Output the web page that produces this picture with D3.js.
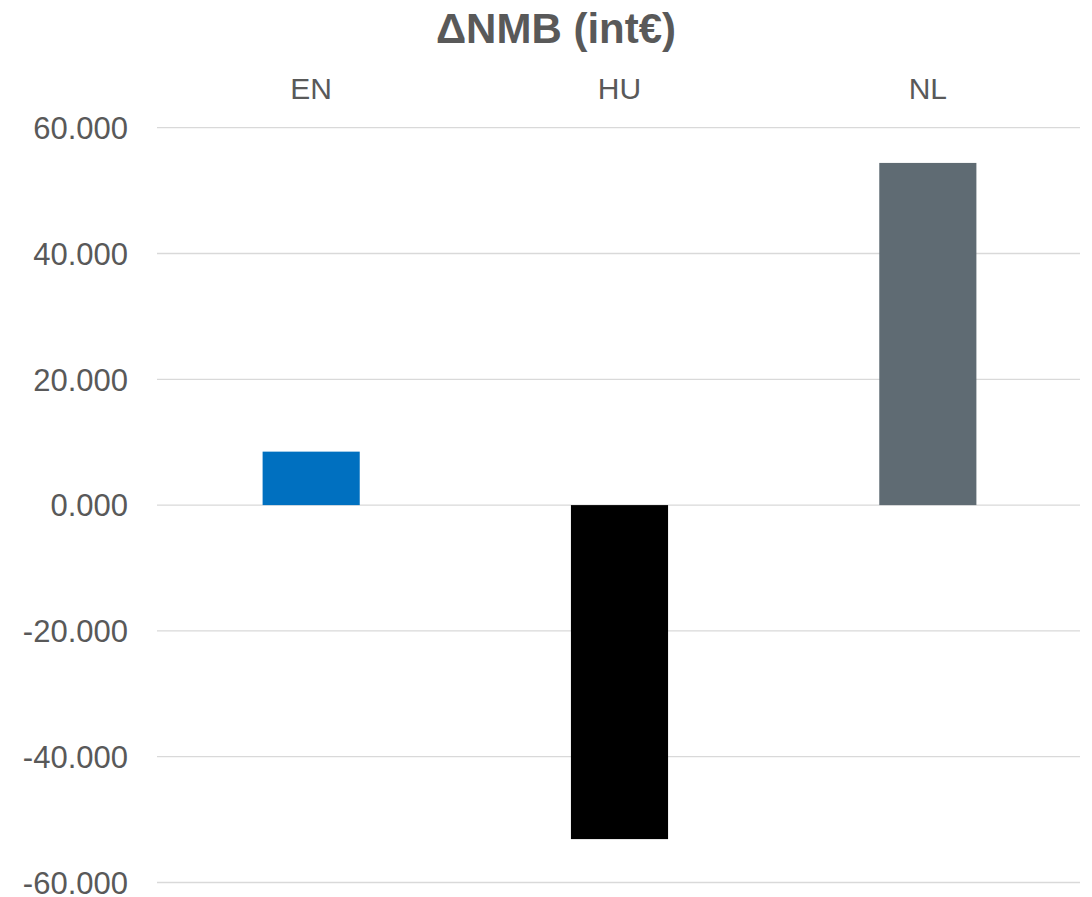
<!DOCTYPE html>
<html>
<head>
<meta charset="utf-8">
<script src="https://cdn.jsdelivr.net/npm/d3@7"></script>
<style>
  html, body { margin: 0; padding: 0; background: #fff; }
  svg { display: block; }
  text { font-family: "Liberation Sans", Arial, sans-serif; }
</style>
</head>
<body>
<svg id="chart" width="1092" height="897"></svg>
<script>
// Change in net monetary benefit per country
const categories = ["EN", "HU", "NL"];
const values = [8.5, -53.1, 54.4];
const barColors = ["#0070C0", "#000000", "#5F6B73"];
const tickValues = [60, 40, 20, 0, -20, -40, -60];
const tickLabels = ["60.000", "40.000", "20.000", "0.000", "-20.000", "-40.000", "-60.000"];
const title = "ΔNMB (int€)";

const svg = d3.select("#chart");
const plotLeft = 157, plotRight = 1082, plotTop = 127.7, plotBottom = 882.5;

const x = d3.scaleBand()
  .domain(categories)
  .range([plotLeft, plotRight])
  .paddingInner(0.685)
  .paddingOuter(0.3425);

const y = d3.scaleLinear()
  .domain([-60, 60])
  .range([plotBottom, plotTop]);

// horizontal gridlines
svg.append("g")
  .selectAll("line")
  .data(tickValues)
  .join("line")
  .attr("x1", plotLeft)
  .attr("x2", 1080)
  .attr("y1", d => y(d))
  .attr("y2", d => y(d))
  .attr("stroke", "#D9D9D9")
  .attr("stroke-width", 1.3);

// y tick labels via axis generator
const yAxis = d3.axisLeft(y)
  .tickValues(tickValues)
  .tickFormat((d, i) => tickLabels[i])
  .tickSize(0)
  .tickPadding(0);

const ag = svg.append("g")
  .attr("transform", `translate(128,0)`)
  .call(yAxis);
ag.select(".domain").remove();
ag.selectAll("text")
  .attr("font-family", "Liberation Sans, Arial, sans-serif")
  .attr("font-size", 31)
  .attr("fill", "#595959")
  .attr("dy", "0.35em");

// bars
svg.append("g")
  .selectAll("rect")
  .data(categories)
  .join("rect")
  .attr("x", d => x(d))
  .attr("width", x.bandwidth())
  .attr("y", (d, i) => y(Math.max(0, values[i])))
  .attr("height", (d, i) => Math.abs(y(values[i]) - y(0)))
  .attr("fill", (d, i) => barColors[i]);

// category labels along the top
svg.append("g")
  .selectAll("text")
  .data(categories)
  .join("text")
  .attr("x", d => x(d) + x.bandwidth() / 2)
  .attr("y", 99)
  .attr("text-anchor", "middle")
  .attr("font-size", 30)
  .attr("fill", "#595959")
  .text(d => d);

// title
svg.append("text")
  .attr("x", 556)
  .attr("y", 43)
  .attr("text-anchor", "middle")
  .attr("font-size", 42)
  .attr("font-weight", "bold")
  .attr("fill", "#595959")
  .text(title);
</script>
</body>
</html>
